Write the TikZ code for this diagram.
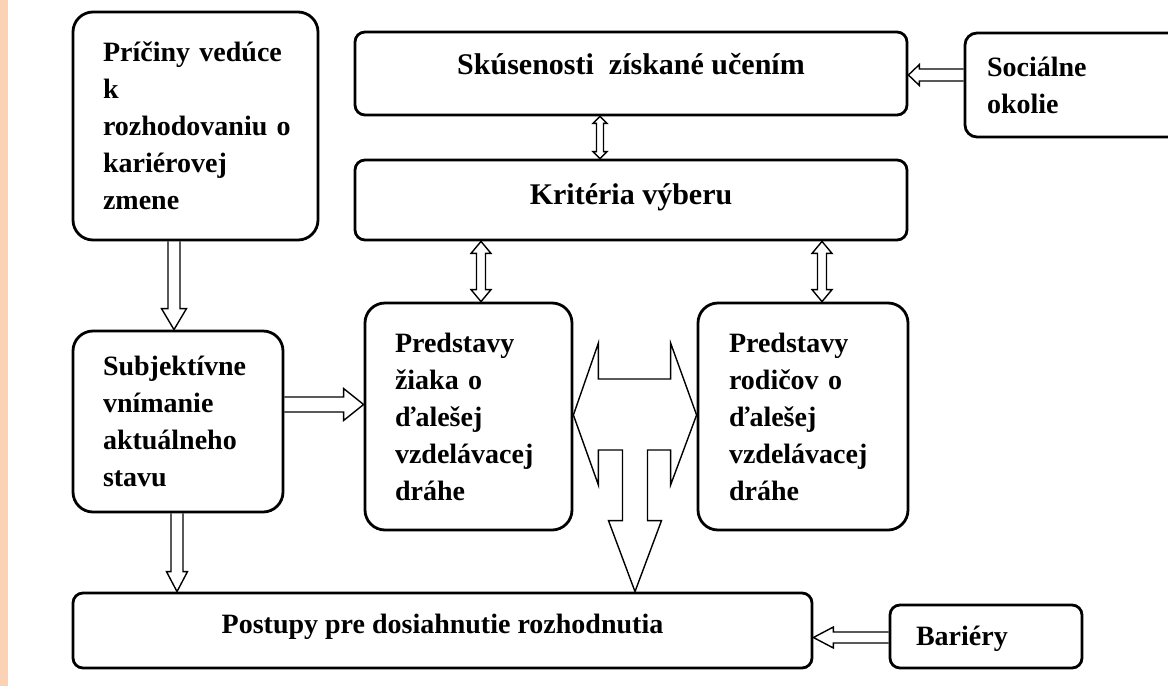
\documentclass[tikz,border=0pt]{standalone}
\usepackage{fontspec}
\setmainfont{Liberation Serif}
\usetikzlibrary{calc,backgrounds}
\definecolor{peach}{RGB}{252,210,182}
\tikzset{
  box/.style={draw=black, line width=2.8pt, rounded corners=#1, inner ysep=0pt},
  box/.default=10pt,
  txt/.style={font=\bfseries\fontsize{28}{37}\selectfont},
  txtbig/.style={font=\bfseries\fontsize{30}{36}\selectfont},
  blk/.style={draw=black, fill=white, line width=1.4pt, line join=miter},
}
% down arrow: tail #1, tip #2 (y), shaft half #3, head half #4, head length #5
\newcommand\arrdown[5]{%
  \draw[blk] let \p1=(#1), \p2=(#2) in
    (\x1-#3pt,\y1) -- (\x1-#3pt,\y2+#5pt) -- (\x1-#4pt,\y2+#5pt) -- (\x1,\y2)
    -- (\x1+#4pt,\y2+#5pt) -- (\x1+#3pt,\y2+#5pt) -- (\x1+#3pt,\y1);}
\newcommand\arrright[5]{%
  \draw[blk] let \p1=(#1), \p2=(#2) in
    (\x1,\y1+#3pt) -- (\x2-#5pt,\y1+#3pt) -- (\x2-#5pt,\y1+#4pt) -- (\x2,\y1)
    -- (\x2-#5pt,\y1-#4pt) -- (\x2-#5pt,\y1-#3pt) -- (\x1,\y1-#3pt);}
\newcommand\arrleft[5]{%
  \draw[blk] let \p1=(#1), \p2=(#2) in
    (\x1,\y1+#3pt) -- (\x2+#5pt,\y1+#3pt) -- (\x2+#5pt,\y1+#4pt) -- (\x2,\y1)
    -- (\x2+#5pt,\y1-#4pt) -- (\x2+#5pt,\y1-#3pt) -- (\x1,\y1-#3pt);}
\newcommand\arrvboth[5]{%
  \draw[blk] let \p1=(#1), \p2=(#2) in
    (\x1,\y1) -- (\x1+#4pt,\y1-#5pt) -- (\x1+#3pt,\y1-#5pt) -- (\x1+#3pt,\y2+#5pt)
    -- (\x1+#4pt,\y2+#5pt) -- (\x1,\y2) -- (\x1-#4pt,\y2+#5pt) -- (\x1-#3pt,\y2+#5pt)
    -- (\x1-#3pt,\y1-#5pt) -- (\x1-#4pt,\y1-#5pt) -- cycle;}
\begin{document}
\begin{tikzpicture}[x=1pt,y=-1pt]
\useasboundingbox (0,0) rectangle (1168,686);

\node[box=20pt, txt, minimum width=245pt, minimum height=228pt, text width=185pt,
      inner xsep=30pt, align=left] (pric) at (195.5,126)
      {Príčiny~vedúce\\k\\rozhodovaniu~o\\kariérovej\\zmene};
\node[box, txtbig, minimum width=552pt, minimum height=83pt, text height=20pt,
      text depth=19pt] (skus) at (631,73.5) {Skúsenosti~~získané učením};
\node[box=12pt, txt, minimum width=225pt, minimum height=104pt, text width=181pt,
      inner xsep=22pt, align=left] (soc) at (1077.5,85) {Sociálne\\okolie};
\node[box, txtbig, minimum width=552pt, minimum height=80pt, text height=20pt,
      text depth=12pt] (krit) at (631,200) {Kritéria výberu};
\node[box=20pt, txt, minimum width=210pt, minimum height=181pt, text width=150pt,
      inner xsep=30pt, align=left] (subj) at (178,421.5)
      {Subjektívne\\vnímanie\\aktuálneho\\stavu};
\node[box=20pt, txt, minimum width=207pt, minimum height=227pt, text width=147pt,
      inner xsep=30pt, align=left] (ziak) at (468.5,416.5)
      {Predstavy\\žiaka~o\\ďalešej\\vzdelávacej\\dráhe};
\node[box=20pt, txt, minimum width=210pt, minimum height=227pt, text width=148pt,
      inner xsep=31pt, align=left] (rod) at (803,416.5)
      {Predstavy\\rodičov~o\\ďalešej\\vzdelávacej\\dráhe};
\node[box, txt, minimum width=739pt, minimum height=75pt, text height=20pt,
      text depth=15pt] (post) at (442.5,630.5) {Postupy pre dosiahnutie rozhodnutia};
\node[box, txt, minimum width=192pt, minimum height=63pt, text width=140pt,
      inner xsep=26pt, align=left, text height=20pt, text depth=3pt] (bar) at (986,636.5) {Bariéry};

\begin{scope}[on background layer]
\fill[peach] (0,0) rectangle (8,686);
\arrdown{$(pric.south)+(-21.5,0)$}{subj.north}{6}{12.5}{21}
\arrdown{$(subj.south)+(-1,0)$}{post.north}{6}{10.5}{20}
\arrright{$(subj.east)+(0,-17)$}{ziak.west}{7.5}{16}{20}
\arrleft{$(soc.west)+(0,-10)$}{skus.east}{6}{10.5}{11}
\arrleft{$(bar.west)+(0,1)$}{post.east}{5.5}{10.5}{20}
\arrvboth{$(skus.south)+(-31,0)$}{krit.north}{3.5}{7}{7}
\arrvboth{$(krit.south)+(-150,0)$}{ziak.north}{4.5}{10}{12}
\arrvboth{$(krit.south)+(191,0)$}{rod.north}{4.5}{10}{12}
% T-shaped double arrow between the two "Predstavy" boxes, pointing down to "Postupy"
\draw[blk] let \p1=($(ziak.east)+(0,-1.5)$), \p2=($(rod.west)+(0,-1.5)$), \p3=(post.north),
  \n1={(\x1+\x2)/2} in
  (\x1,\y1) -- (\x1+25pt,\y1+72pt) -- (\x1+25pt,\y1+36pt) -- (\x2-26pt,\y1+36pt)
  -- (\x2-26pt,\y1+72pt) -- (\x2,\y1) -- (\x2-26pt,\y1-70pt) -- (\x2-26pt,\y1-35pt)
  -- (\n1+12.5pt,\y1-35pt) -- (\n1+12.5pt,\y3+71pt) -- (\n1+26.5pt,\y3+71pt) -- (\n1,\y3)
  -- (\n1-26.5pt,\y3+71pt) -- (\n1-12.5pt,\y3+71pt) -- (\n1-12.5pt,\y1-35pt)
  -- (\x1+25pt,\y1-35pt) -- (\x1+25pt,\y1-70pt) -- cycle;
\end{scope}
\end{tikzpicture}
\end{document}
